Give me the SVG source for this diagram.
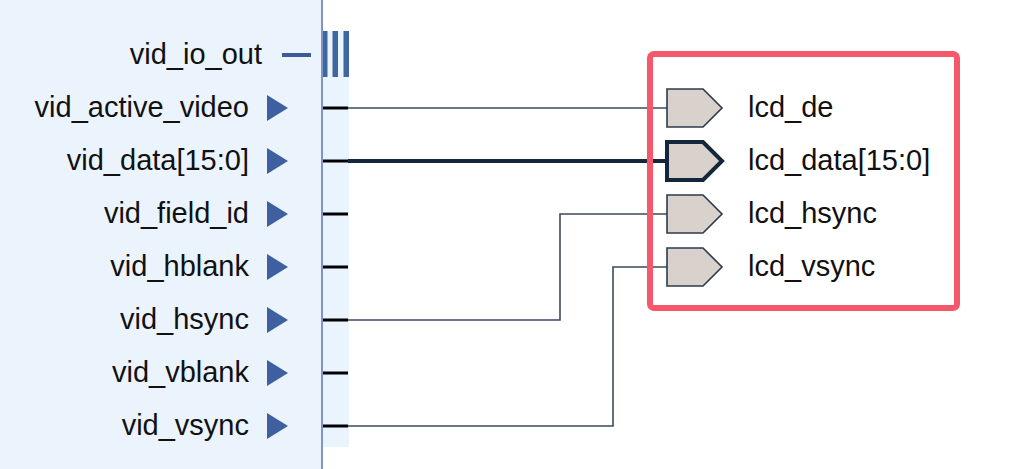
<svg xmlns="http://www.w3.org/2000/svg" width="1024" height="469" viewBox="0 0 1024 469">
<style>
.lbl{font-family:"Liberation Sans",Arial,sans-serif;font-size:29px;fill:#111;}
.pin{fill:#3e5fa0;}
.stub{stroke:#000;stroke-width:3;}
.wire{fill:none;stroke:#3b4a5c;stroke-width:1.6;}
.bus{fill:none;stroke:#13263a;stroke-width:4;}
.port{fill:#d9d1cc;stroke:#2b3b4d;stroke-width:1.6;}
.portbus{fill:#d9d1cc;stroke:#13263a;stroke-width:4;}
</style>
<rect width="1024" height="469" fill="#ffffff"/>
<g id="vtc_block">
<rect x="0" y="0" width="322" height="469" fill="#ebf3fd"/>
<rect x="323" y="31" width="26" height="416" fill="#eaf4fe"/>
<line x1="322" y1="0" x2="322" y2="469" stroke="#7f95c6" stroke-width="2"/>
<rect x="323" y="31" width="4.5" height="46" fill="#3e67a0"/>
<rect x="332.5" y="31" width="5.5" height="46" fill="#3e67a0"/>
<rect x="343.5" y="31" width="5.5" height="46" fill="#3e67a0"/>
<rect x="282" y="53" width="29" height="4" fill="#3a5a98"/>
<text class="lbl" x="262" y="64" text-anchor="end">vid_io_out</text>
<text class="lbl" x="249" y="117" text-anchor="end">vid_active_video</text>
<text class="lbl" x="249" y="170" text-anchor="end">vid_data[15:0]</text>
<text class="lbl" x="249" y="223" text-anchor="end">vid_field_id</text>
<text class="lbl" x="249" y="276" text-anchor="end">vid_hblank</text>
<text class="lbl" x="249" y="329" text-anchor="end">vid_hsync</text>
<text class="lbl" x="249" y="382" text-anchor="end">vid_vblank</text>
<text class="lbl" x="249" y="435" text-anchor="end">vid_vsync</text>
<polygon class="pin" points="267,95 267,121 288,108"/>
<polygon class="pin" points="267,148 267,174 288,161"/>
<polygon class="pin" points="267,201 267,227 288,214"/>
<polygon class="pin" points="267,254 267,280 288,267"/>
<polygon class="pin" points="267,307 267,333 288,320"/>
<polygon class="pin" points="267,360 267,386 288,373"/>
<polygon class="pin" points="267,413 267,439 288,426"/>
<line class="stub" x1="323" y1="108" x2="348" y2="108"/>
<line class="stub" x1="323" y1="161" x2="348" y2="161" stroke-width="4"/>
<line class="stub" x1="323" y1="214" x2="348" y2="214"/>
<line class="stub" x1="323" y1="267" x2="348" y2="267"/>
<line class="stub" x1="323" y1="320" x2="348" y2="320"/>
<line class="stub" x1="323" y1="373" x2="348" y2="373"/>
<line class="stub" x1="323" y1="426" x2="348" y2="426"/>
</g>
<g id="connectors">
<path class="wire" d="M348,108 H667"/>
<path class="bus" d="M348,161 H667"/>
<path class="wire" d="M348,320 H560 V214 H667"/>
<path class="wire" d="M348,426 H613 V267 H667"/>
</g>
<g id="highlight">
<rect x="650" y="54" width="307" height="254" rx="4" fill="none" stroke="#f5586a" stroke-width="6"/>
</g>
<g id="port_lcd_de">
<polygon class="port" points="667,89 703,89 722,108 703,127 667,127"/>
<text class="lbl" x="748" y="117">lcd_de</text>
</g>
<g id="port_lcd_data">
<polygon class="portbus" points="667,142 703,142 722,161 703,180 667,180"/>
<text class="lbl" x="748" y="170">lcd_data[15:0]</text>
</g>
<g id="port_lcd_hsync">
<polygon class="port" points="667,195 703,195 722,214 703,233 667,233"/>
<text class="lbl" x="748" y="223">lcd_hsync</text>
</g>
<g id="port_lcd_vsync">
<polygon class="port" points="667,248 703,248 722,267 703,286 667,286"/>
<text class="lbl" x="748" y="276">lcd_vsync</text>
</g>
</svg>
